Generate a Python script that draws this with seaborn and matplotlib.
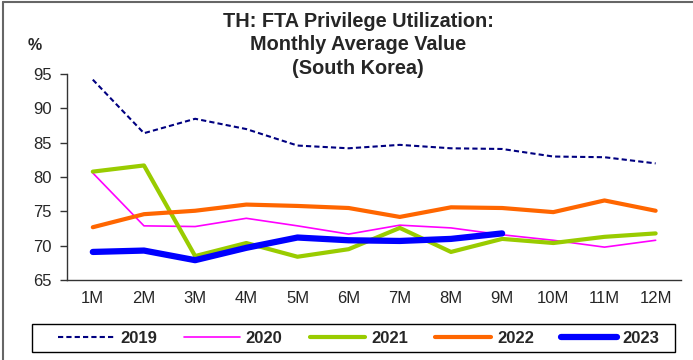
import matplotlib
matplotlib.use("Agg")
import matplotlib.pyplot as plt
import seaborn as sns
import pandas as pd
from matplotlib.lines import Line2D
from matplotlib.patches import Rectangle
from matplotlib.ticker import FixedLocator

# Data
months = ["1M", "2M", "3M", "4M", "5M", "6M", "7M", "8M", "9M", "10M", "11M", "12M"]
y2019 = [94.2, 86.4, 88.5, 87.0, 84.6, 84.2, 84.7, 84.2, 84.1, 83.0, 82.9, 82.0]
y2020 = [80.6, 72.9, 72.8, 74.0, 72.9, 71.7, 73.0, 72.6, 71.6, 70.8, 69.8, 70.8]
y2021 = [80.8, 81.7, 68.5, 70.4, 68.4, 69.5, 72.6, 69.1, 71.0, 70.4, 71.3, 71.8]
y2022 = [72.7, 74.6, 75.1, 76.0, 75.8, 75.5, 74.2, 75.6, 75.5, 74.9, 76.6, 75.1]
y2023 = [69.1, 69.3, 67.9, 69.7, 71.2, 70.8, 70.7, 71.0, 71.8]

years = ["2019", "2020", "2021", "2022", "2023"]
series = [y2019, y2020, y2021, y2022, y2023]
colors = ["#000080", "#FF00FF", "#99CC00", "#FF6600", "#0000FF"]
widths = [1.5, 1.2, 3.0, 3.0, 4.5]
styles = [(0, (2.5, 1.5)), "-", "-", "-", "-"]

rows = []
for yr, vals in zip(years, series):
    for i, v in enumerate(vals):
        rows.append({"month": i + 1, "value": v, "year": yr})
df = pd.DataFrame(rows)

sns.set_style("white")
plt.rcParams["font.family"] = ["Liberation Sans", "DejaVu Sans"]

fig = plt.figure(figsize=(6.93, 3.6), dpi=100)
ax = fig.add_axes([0.097, 0.222, 0.886, 0.572])

for yr, c, lw, ls in zip(years, colors, widths, styles):
    sns.lineplot(data=df[df["year"] == yr], x="month", y="value", ax=ax,
                 color=c, linewidth=lw, linestyle=ls, legend=False,
                 solid_capstyle="round")

ax.set_xlim(0.5, 12.5)
ax.set_ylim(65, 95)
ax.set_yticks([65, 70, 75, 80, 85, 90, 95])
ax.set_xticks(range(1, 13))
ax.set_xticklabels(months)
ax.xaxis.set_minor_locator(FixedLocator([i + 0.5 for i in range(13)]))
ax.tick_params(axis="x", which="major", length=0, labelsize=12, pad=8)
ax.tick_params(axis="x", which="minor", length=5, width=1, color="#333333", direction="out")
ax.tick_params(axis="y", length=5, width=1, color="#333333", labelsize=12, left=True,
               direction="out", pad=6)
ax.set_xlabel("")
ax.set_ylabel("")
sns.despine(ax=ax)
for s in ["left", "bottom"]:
    ax.spines[s].set_color("#333333")
    ax.spines[s].set_linewidth(1)

fig.text(0.517, 0.875, "TH: FTA Privilege Utilization:\nMonthly Average Value\n(South Korea)",
         ha="center", va="center", fontsize=14.3, fontweight="bold", linespacing=1.28)
fig.text(0.04, 0.875, "%", ha="left", va="center", fontsize=11.5, fontweight="bold")

handles = [Line2D([0], [0], color=c, lw=lw, ls=ls, solid_capstyle="round")
           for c, lw, ls in zip(colors, widths, styles)]
leg = fig.legend(handles, years, loc="center", bbox_to_anchor=(0.518, 0.061), ncol=5,
                 frameon=False, handlelength=3.35,
                 columnspacing=1.63, prop={"weight": "bold", "size": 12},
                 borderpad=0.35, handletextpad=0.35)

# legend box
fig.add_artist(Rectangle((32 / 693, 8 / 360), 643 / 693, 28 / 360,
                         transform=fig.transFigure, fill=False, edgecolor="black", lw=1))

# outer frame (left and top edges visible in the reference)
fig.add_artist(Line2D([0.005, 0.005], [0, 0.995], color="#666666", lw=1.5))
fig.add_artist(Line2D([0.005, 1], [0.995, 0.995], color="#666666", lw=1.5))

fig.savefig("out.png", dpi=100)
